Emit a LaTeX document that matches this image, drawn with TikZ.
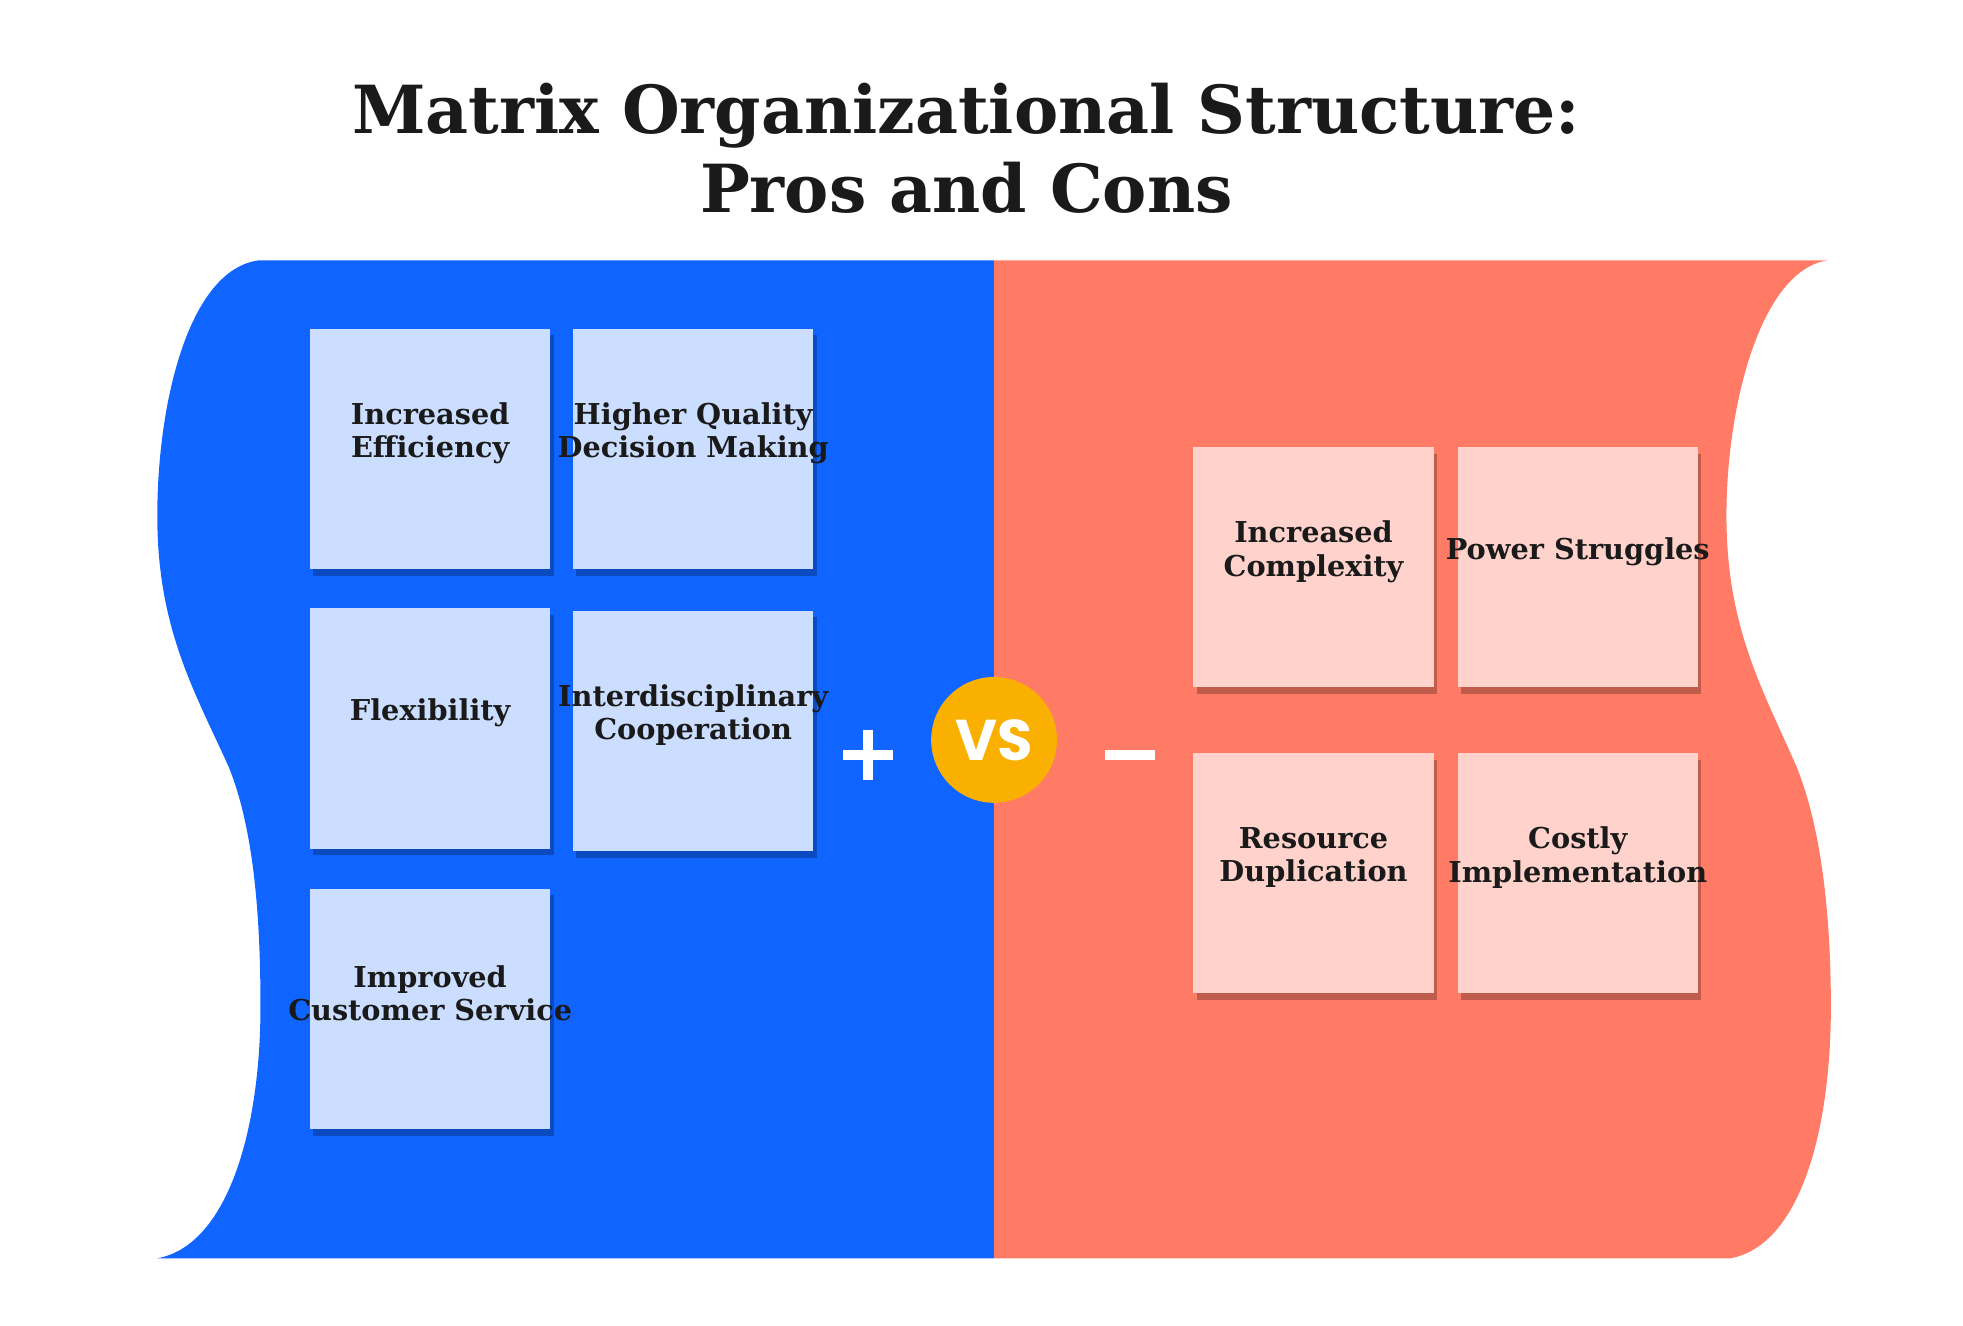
\documentclass[tikz,border=0pt]{standalone}
\usepackage{fontspec}
\setmainfont{DejaVu Serif}
\newfontfamily\vsfont{Poppins}
\usetikzlibrary{shadows}
\definecolor{pblue}{HTML}{1064FF}
\definecolor{pbox}{HTML}{CCDEFF}
\definecolor{cred}{HTML}{FF7B66}
\definecolor{cbox}{HTML}{FFD3CC}
\definecolor{vsy}{HTML}{F9B000}
\definecolor{ink}{HTML}{1A1A1A}
\tikzset{
 card/.style={minimum width=191*0.02cm, minimum height=191*0.02cm, anchor=north west, inner sep=0pt,
   drop shadow={shadow xshift=1.5pt, shadow yshift=-3pt, opacity=0.25, fill=black}},
 pro/.style={card, fill=pbox},
 con/.style={card, fill=cbox},
 lbl/.style={align=center, font=\bfseries\fontsize{13}{15}\selectfont, text=ink},
 sign/.style={white, line width=4.5pt}
}
\begin{document}
\begin{tikzpicture}[x=0.02cm,y=-0.02cm]
\useasboundingbox[fill=white] (0,0) rectangle (1560,1053);
\node[font=\bfseries\fontsize{30}{36}\selectfont, align=center, text=ink] (title) at (768,118) {Matrix Organizational Structure:\\Pros and Cons};
\fill[pblue] (790,207) -- (205,207) .. controls (150,215) and (125,320) .. (125,410)
  .. controls (125,500) and (155,550) .. (182,610) .. controls (202,660) and (207,730) .. (207,800)
  .. controls (207,900) and (180,990) .. (125,1000) -- (790,1000) -- cycle;
\fill[cred] (790,207) -- (1452,207) .. controls (1400,215) and (1372,320) .. (1372,410)
  .. controls (1372,500) and (1402,550) .. (1428,610) .. controls (1448,660) and (1455,730) .. (1455,800)
  .. controls (1455,900) and (1430,990) .. (1375,1000) -- (790,1000) -- cycle;
\node[pro] (p1) at (246,261) {};
\node[pro] (p2) at (455,261) {};
\node[pro] (p3) at (246,483) {};
\node[pro] (p4) at (455,485) {};
\node[pro] (p5) at (246,706) {};
\node[con] (c1) at (948,355) {};
\node[con] (c2) at (1158,355) {};
\node[con] (c3) at (948,598) {};
\node[con] (c4) at (1158,598) {};
\node[lbl] at ([yshift=7pt]p1.center) {Increased\\Efficiency};
\node[lbl] at ([yshift=7pt]p2.center) {Higher Quality\\Decision Making};
\node[lbl] at ([yshift=7pt]p3.center) {Flexibility};
\node[lbl] at ([yshift=7pt]p4.center) {Interdisciplinary\\Cooperation};
\node[lbl] at ([yshift=7pt]p5.center) {Improved\\Customer Service};
\node[lbl] at ([yshift=7pt]c1.center) {Increased\\Complexity};
\node[lbl] at ([yshift=7pt]c2.center) {Power Struggles};
\node[lbl] at ([yshift=7pt]c3.center) {Resource\\Duplication};
\node[lbl] at ([yshift=7pt]c4.center) {Costly\\Implementation};
\node[circle, fill=vsy, minimum size=100*0.02cm, inner sep=0pt, text=white, font=\vsfont\bfseries\fontsize{26}{30}\selectfont] (vs) at (790,588) {VS};
\coordinate (pl) at (690,600);
\draw[sign] ([xshift=-20*0.02cm]pl) -- ([xshift=20*0.02cm]pl);
\draw[sign] ([yshift=20*0.02cm]pl) -- ([yshift=-20*0.02cm]pl);
\coordinate (mi) at (898,600);
\draw[sign] ([xshift=-20*0.02cm]mi) -- ([xshift=20*0.02cm]mi);
\end{tikzpicture}
\end{document}
